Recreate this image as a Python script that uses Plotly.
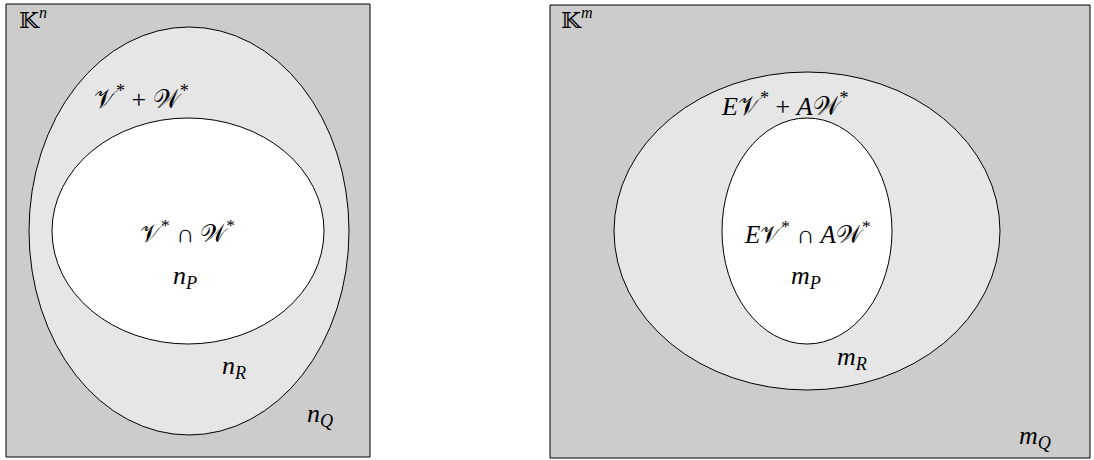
import plotly.graph_objects as go

# Diagram data (pixel-like data coordinates, y downward)
panels = ["left", "right"]
rect_x0 = [6, 550]
rect_x1 = [370, 1090]
rect_y0 = [4, 5]
rect_y1 = [457, 458]

outer_cx = [189, 807]
outer_cy = [231, 231]
outer_rx = [160, 193]
outer_ry = [204, 159]

inner_cx = [188, 807]
inner_cy = [231, 231]
inner_rx = [136, 85]
inner_ry = [113, 113]

space_labels = ["𝕂<sup><i>n</i></sup>", "𝕂<sup><i>m</i></sup>"]
space_pos = [(33, 18), (577, 18)]
sum_labels = ["𝒱<sup>*</sup> + 𝒲<sup>*</sup>", "<i>E</i>𝒱<sup>*</sup> + <i>A</i>𝒲<sup>*</sup>"]
sum_pos = [(141, 97), (785, 104)]
cap_labels = ["𝒱<sup>*</sup> ∩ 𝒲<sup>*</sup>", "<i>E</i>𝒱<sup>*</sup> ∩ <i>A</i>𝒲<sup>*</sup>"]
cap_pos = [(187, 231), (807, 232)]
p_labels = ["<i>n</i><sub><i>P</i></sub>", "<i>m</i><sub><i>P</i></sub>"]
p_pos = [(185, 277), (806, 277)]
r_labels = ["<i>n</i><sub><i>R</i></sub>", "<i>m</i><sub><i>R</i></sub>"]
r_pos = [(234, 367), (852, 358)]
q_labels = ["<i>n</i><sub><i>Q</i></sub>", "<i>m</i><sub><i>Q</i></sub>"]
q_pos = [(320, 415), (1035, 437)]

W, H = 1094, 460
fig = go.Figure()
fig.add_trace(go.Scatter(x=[0, W], y=[0, H], mode="markers", marker=dict(opacity=0), hoverinfo="skip", showlegend=False))

shapes = []
for i in range(len(panels)):
    shapes.append(dict(type="rect", xref="x", yref="y", x0=rect_x0[i], x1=rect_x1[i], y0=rect_y0[i], y1=rect_y1[i],
                       fillcolor="#cccccc", line=dict(color="black", width=1), layer="below"))
    shapes.append(dict(type="circle", xref="x", yref="y",
                       x0=outer_cx[i] - outer_rx[i], x1=outer_cx[i] + outer_rx[i],
                       y0=outer_cy[i] - outer_ry[i], y1=outer_cy[i] + outer_ry[i],
                       fillcolor="#e6e6e6", line=dict(color="black", width=1), layer="below"))
    shapes.append(dict(type="circle", xref="x", yref="y",
                       x0=inner_cx[i] - inner_rx[i], x1=inner_cx[i] + inner_rx[i],
                       y0=inner_cy[i] - inner_ry[i], y1=inner_cy[i] + inner_ry[i],
                       fillcolor="white", line=dict(color="black", width=1), layer="below"))

annotations = []
def add(labels, pos, size):
    for t, (x, y) in zip(labels, pos):
        annotations.append(dict(x=x, y=y, xref="x", yref="y", text=t, showarrow=False,
                                font=dict(family="Liberation Serif, DejaVu Serif", size=size, color="black")))
add(space_labels, space_pos, 23)
add(sum_labels, sum_pos, 26)
add(cap_labels, cap_pos, 25)
add(p_labels, p_pos, 26)
add(r_labels, r_pos, 26)
add(q_labels, q_pos, 26)

fig.update_layout(
    width=W, height=H, margin=dict(l=0, r=0, t=0, b=0),
    paper_bgcolor="white", plot_bgcolor="white",
    xaxis=dict(range=[0, W], visible=False, fixedrange=True),
    yaxis=dict(range=[H, 0], visible=False, fixedrange=True),
    shapes=shapes, annotations=annotations, showlegend=False,
)
fig.write_html("out.html", config={"displayModeBar": False},
               post_script="document.body.style.margin='0';")
